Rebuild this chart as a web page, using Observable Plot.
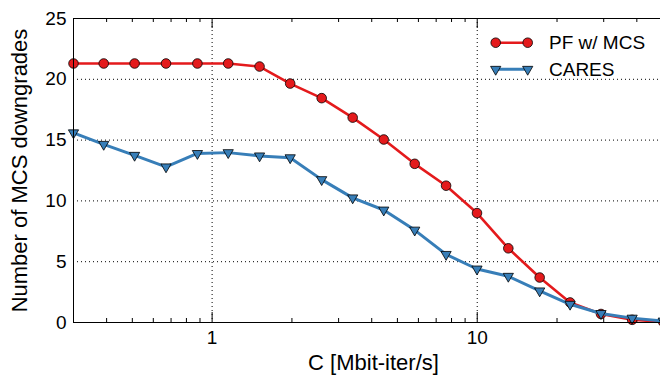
<!DOCTYPE html>
<html><head><meta charset="utf-8">
<script src="https://cdn.jsdelivr.net/npm/d3@7"></script>
<script src="https://cdn.jsdelivr.net/npm/@observablehq/plot@0.6"></script>
<style>
html,body{margin:0;padding:0;background:#fff;overflow:hidden}
#wrap{position:relative;width:660px;height:375px;overflow:hidden}
#wrap svg{display:block;max-width:none !important}
#legend{position:absolute;left:0;top:0;pointer-events:none}
</style></head><body><div id="wrap"></div>
<script>
// ---- data ----
const capacity = [0.3, 0.39, 0.51, 0.67, 0.88, 1.15, 1.51, 1.97, 2.59, 3.39, 4.44, 5.81, 7.63, 9.98, 13.1, 17.2, 22.4, 29.3, 38.4, 50.3];
const pfMcs = [21.3, 21.3, 21.3, 21.3, 21.3, 21.3, 21.05, 19.65, 18.45, 16.85, 15.05, 13.05, 11.25, 9.0, 6.1, 3.7, 1.65, 0.7, 0.22, 0.05];
const cares = [15.6, 14.65, 13.75, 12.8, 13.9, 13.97, 13.7, 13.55, 11.75, 10.25, 9.25, 7.6, 5.6, 4.4, 3.8, 2.6, 1.5, 0.74, 0.36, 0.12];
const seriesNames = ["PF w/ MCS", "CARES"];
const seriesColors = ["#e41a1c", "#377eb8"];
const xMajorTicks = [1, 10];
const xMinorTicks = [0.3, 0.4, 0.5, 0.6, 0.7, 0.8, 0.9, 2, 3, 4, 5, 6, 7, 8, 9, 20, 30, 40, 50];
const yTicks = [0, 5, 10, 15, 20, 25];
const yGrid = [5, 10, 15, 20];
const xTitle = "C [Mbit-iter/s]";
const yTitle = "Number of MCS downgrades";

const pfRows = capacity.map((c, i) => ({c, v: pfMcs[i]}));
const caresRows = capacity.map((c, i) => ({c, v: cares[i]}));

const W = 673, H = 375, mt = 18, mb = 53, ml = 73, mr = 0;
const innerH = H - mt - mb;
const font = "'Liberation Sans', Arial, Helvetica, sans-serif";
const dotted = {stroke: "#000", strokeOpacity: 1, strokeWidth: 1, strokeDasharray: "1,3"};

const chart = Plot.plot({
  width: W, height: H,
  marginTop: mt, marginBottom: mb, marginLeft: ml, marginRight: mr,
  style: {fontFamily: font, fontSize: "19px", color: "#000", background: "#fff", maxWidth: "none"},
  x: {type: "log", domain: [0.3, 55]},
  y: {domain: [0, 25]},
  marks: [
    Plot.gridX(xMajorTicks, dotted),
    Plot.gridY(yGrid, dotted),
    Plot.axisX(xMajorTicks, {tickSize: 0, tickPadding: 8, fontSize: 19, tickFormat: d => String(d), label: null}),
    Plot.axisY(yTicks, {tickSize: 0, tickPadding: 7, fontSize: 19, label: null}),
    Plot.tickX(xMajorTicks, {x: d => d, insetTop: innerH - 10, stroke: "#000"}),
    Plot.tickX(xMajorTicks, {x: d => d, insetBottom: innerH - 10, stroke: "#000"}),
    Plot.tickX(xMinorTicks, {x: d => d, insetTop: innerH - 4, stroke: "#000"}),
    Plot.tickX(xMinorTicks, {x: d => d, insetBottom: innerH - 4, stroke: "#000"}),
    Plot.text([xTitle], {frameAnchor: "bottom", dy: 40, textAnchor: "middle", lineAnchor: "middle", fontSize: 22, fill: "#000"}),
    Plot.text([yTitle], {frameAnchor: "left", dx: -54, rotate: -90, textAnchor: "middle", lineAnchor: "middle", fontSize: 22, fill: "#000"}),
    Plot.line(pfRows, {x: "c", y: "v", stroke: seriesColors[0], strokeWidth: 2.6}),
    Plot.dot(pfRows, {x: "c", y: "v", r: 4.8, fill: seriesColors[0], stroke: "#000", strokeWidth: 0.8}),
    Plot.line(caresRows, {x: "c", y: "v", stroke: seriesColors[1], strokeWidth: 3}),
    Plot.dot(caresRows, {x: "c", y: "v", symbol: "triangle", rotate: 180, r: 3.8, fill: seriesColors[1], stroke: "#000", strokeWidth: 0.8}),
    Plot.frame({stroke: "#000", strokeWidth: 1})
  ]
});
const wrap = document.getElementById("wrap");
wrap.appendChild(chart);

// ---- legend overlay ----
const leg = d3.select(wrap).append("svg").attr("id", "legend").attr("width", 660).attr("height", 375)
  .style("font-family", font);
const rowY = [42.7, 69.3];
const tri = d3.symbol(d3.symbolTriangle, Math.PI * 3.8 * 3.8);
seriesNames.forEach((name, i) => {
  const g = leg.append("g").attr("transform", `translate(0,${rowY[i]})`);
  g.append("line").attr("x1", 495.7).attr("x2", 527.7).attr("y1", 0).attr("y2", 0)
    .attr("stroke", seriesColors[i]).attr("stroke-width", i === 0 ? 2.6 : 3);
  [495.7, 527.7].forEach(x => {
    if (i === 0) {
      g.append("circle").attr("cx", x).attr("cy", 0).attr("r", 4.8)
        .attr("fill", seriesColors[i]).attr("stroke", "#000").attr("stroke-width", 0.8);
    } else {
      g.append("path").attr("d", tri()).attr("transform", `translate(${x},0) rotate(180)`)
        .attr("fill", seriesColors[i]).attr("stroke", "#000").attr("stroke-width", 0.8);
    }
  });
  g.append("text").attr("x", 549).attr("y", 0).attr("dy", "0.35em")
    .attr("font-size", 19).attr("fill", "#000").text(name);
});
</script></body></html>
